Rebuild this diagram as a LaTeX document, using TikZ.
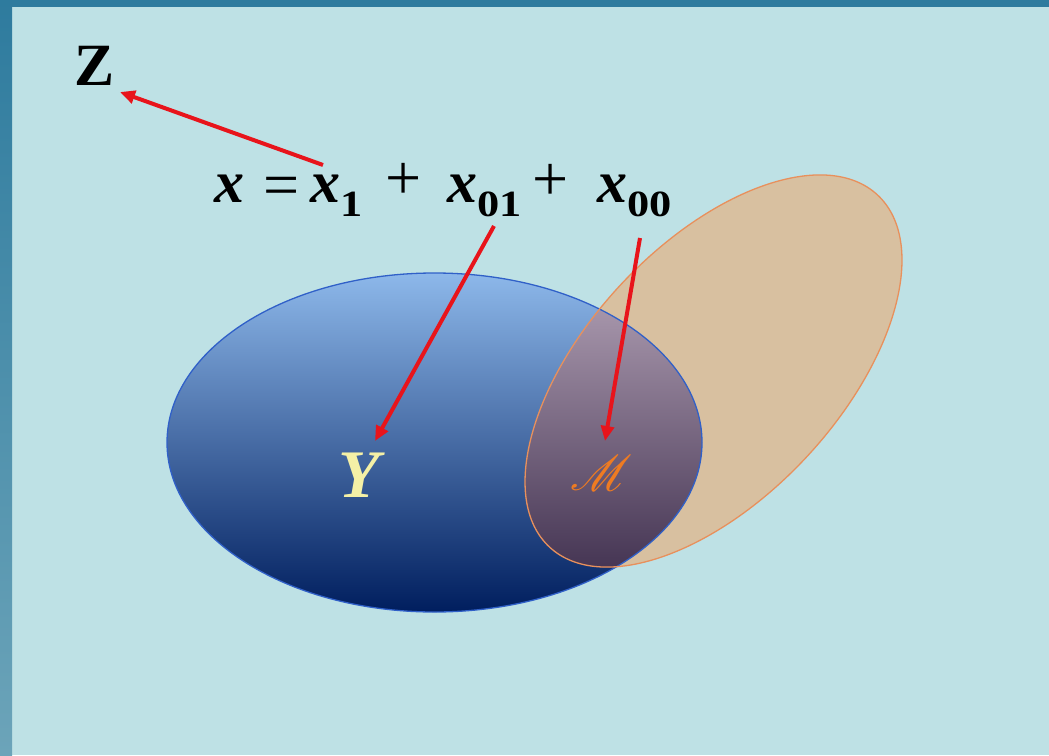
\documentclass[tikz,border=0pt]{standalone}
\usepackage{fontspec}
\setmainfont{Liberation Serif}
\usepackage{mathrsfs}
\usetikzlibrary{arrows.meta}
\definecolor{bg}{HTML}{BEE1E5}
\definecolor{barcol}{HTML}{2E7B9E}
\definecolor{barbot}{HTML}{6CA4B9}
\definecolor{bluetop}{HTML}{8DB8EA}
\definecolor{bluemid}{HTML}{3563AE}
\definecolor{bluebot}{HTML}{001E5E}
\definecolor{blueedge}{HTML}{3060C8}
\definecolor{tanfill}{HTML}{D8C0A0}
\definecolor{tanedge}{HTML}{E8905C}
\definecolor{ovtop}{HTML}{B3A2B6}
\definecolor{ovbot}{HTML}{352545}
\definecolor{arrowred}{HTML}{E8141B}
\definecolor{ycol}{HTML}{F4F0A6}
\definecolor{mcol}{HTML}{EE7B22}
\newcommand{\mysub}[1]{\raisebox{-14pt}{\scalebox{1.2}[1]{\fontsize{37}{37}\selectfont\bfseries\upshape #1}}}
\begin{document}
\begin{tikzpicture}[x=1pt,y=1pt,
  redarrow/.style={draw=arrowred, line width=4pt, -{Triangle[length=15pt,width=13pt]}},
  eqtext/.style={inner sep=0pt, anchor=base west, font=\fontsize{60}{60}\selectfont\bfseries},
  optext/.style={inner sep=0pt, anchor=base, font=\fontsize{64}{64}\selectfont}]
\useasboundingbox (0,0) rectangle (1049,-755);
\fill[bg] (0,0) rectangle (1049,-755);
\fill[barcol] (0,0) rectangle (1049,-7);
\shade[top color=barcol, bottom color=barbot] (0,0) rectangle (12,-755);

% blue ellipse
\shade[top color=bluetop, middle color=bluemid, bottom color=bluebot]
  (434.5,-442.5) ellipse [x radius=267.5, y radius=169.5];
% orange ellipse
\fill[tanfill, rotate around={47:(713.5,-371)}]
  (713.5,-371) ellipse [x radius=240.6, y radius=126.7];
% overlap
\begin{scope}
  \clip (434.5,-442.5) ellipse [x radius=267.5, y radius=169.5];
  \clip[rotate around={47:(713.5,-371)}] (713.5,-371) ellipse [x radius=240.6, y radius=126.7];
  \shade[top color=ovtop, bottom color=ovbot] (160,-273) rectangle (710,-612);
\end{scope}
\draw[blueedge, line width=1.3pt] (434.5,-442.5) ellipse [x radius=267.5, y radius=169.5];
\draw[tanedge, line width=1.3pt, rotate around={47:(713.5,-371)}]
  (713.5,-371) ellipse [x radius=240.6, y radius=126.7];

% texts
\node[eqtext] (Z) at (74,-85) {\upshape Z};
\node[eqtext] (xx) at (214,-202) {\itshape x};
\node[optext] (eq) at (281.5,-206) {=};
\node[eqtext] (x1) at (310,-202) {\itshape x\mysub{1}};
\node[optext] (p1) at (403.5,-199) {+};
\node[eqtext] (x01) at (447,-202) {\itshape x\mysub{01}};
\node[optext] (p2) at (550.5,-200) {+};
\node[eqtext] (x00) at (597,-202) {\itshape x\mysub{00}};
\node[inner sep=0pt, anchor=base west, text=ycol, font=\fontsize{68}{68}\selectfont\bfseries\itshape] (Y) at (338,-497) {Y};
\node[inner sep=0pt, text=mcol] (M) at (601,-473) {\scalebox{5}{$\mathscr{M}$}};

% arrows
\coordinate (a1s) at (323,-165);
\coordinate (a1e) at (120,-92);
\coordinate (a2s) at (494,-226);
\coordinate (a2e) at (375,-441);
\coordinate (a3s) at (640,-238);
\coordinate (a3e) at (605,-441);
\draw[redarrow] (a1s) -- (a1e);
\draw[redarrow] (a2s) -- (a2e);
\draw[redarrow] (a3s) -- (a3e);
\end{tikzpicture}
\end{document}
